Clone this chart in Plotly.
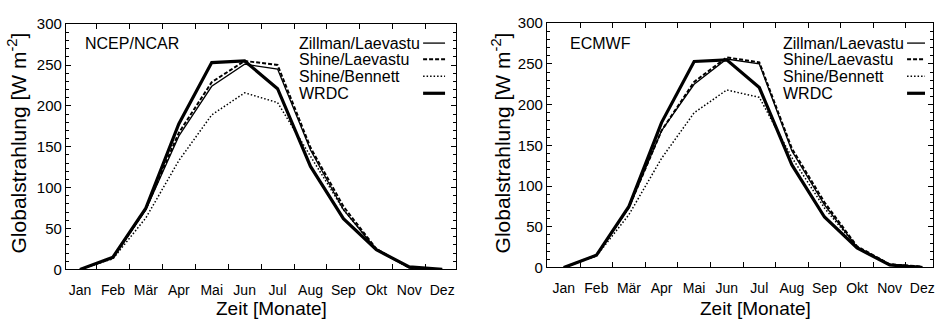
import plotly.graph_objects as go

# Month categories (positions 1..12 on the x axis)
months = ["Jan", "Feb", "Mär", "Apr", "Mai", "Jun", "Jul", "Aug", "Sep", "Okt", "Nov", "Dez"]
month_pos = list(range(1, 13))

# Monthly mean global radiation [W m^-2]
wrdc = [0, 15, 75, 178, 253, 255, 221, 126, 62, 24, 3, 0]

ncep_zillman = [0, 14, 73, 163, 224, 251, 245, 146, 73, 24, 2, 0]
ncep_shine_laev = [0, 14, 74, 167, 229, 255, 250, 149, 77, 25, 2, 0]
ncep_shine_benn = [0, 13, 63, 133, 189, 216, 204, 138, 73, 25, 2, 0]

ecmwf_zillman = [0, 15, 74, 168, 225, 256, 250, 143, 77, 25, 4, 1]
ecmwf_shine_laev = [0, 15, 74, 168, 228, 258, 252, 146, 80, 26, 4, 1]
ecmwf_shine_benn = [0, 14, 65, 134, 190, 218, 209, 135, 73, 25, 4, 1]

series_names = ["Zillman/Laevastu", "Shine/Laevastu", "Shine/Bennett", "WRDC"]
panel_titles = ["NCEP/NCAR", "ECMWF"]
y_title = "Globalstrahlung [W m<sup>-2</sup>]"
x_title = "Zeit [Monate]"

FONT = "Liberation Sans, Arial, Helvetica, sans-serif"
W, H = 937, 320

line_styles = {
    "Zillman/Laevastu": dict(width=1.3, dash="solid"),
    "Shine/Laevastu": dict(width=2.0, dash="4px,2px"),
    "Shine/Bennett": dict(width=1.5, dash="1.5px,2px"),
    "WRDC": dict(width=3.2, dash="solid"),
}


def px(x):
    return x / W


def py(y):
    return 1 - y / H


panels = [
    dict(
        title=panel_titles[0],
        data={
            "Zillman/Laevastu": ncep_zillman,
            "Shine/Laevastu": ncep_shine_laev,
            "Shine/Bennett": ncep_shine_benn,
            "WRDC": wrdc,
        },
        x0=66, x1=457, y0=16, y1=275, xrange=[0.57, 12.42],
        ytitle_x=17, xtitle_x=272, title_x=83, legend_x=298, sample=(424, 446),
    ),
    dict(
        title=panel_titles[1],
        data={
            "Zillman/Laevastu": ecmwf_zillman,
            "Shine/Laevastu": ecmwf_shine_laev,
            "Shine/Bennett": ecmwf_shine_benn,
            "WRDC": wrdc,
        },
        x0=548, x1=935, y0=15, y1=273, xrange=[0.48, 12.33],
        ytitle_x=502, xtitle_x=757, title_x=569, legend_x=783, sample=(909, 927),
    ),
]

fig = go.Figure()
annotations = []
shapes = []
layout_axes = {}

draw_order = ["Shine/Bennett", "Shine/Laevastu", "Zillman/Laevastu", "WRDC"]
legend_rows = [36, 53, 71, 89]

for i, p in enumerate(panels):
    xa = "x" if i == 0 else "x2"
    ya = "y" if i == 0 else "y2"
    xdom = [px(p["x0"]), px(p["x1"])]
    ydom = [py(p["y1"]), py(p["y0"])]

    for name in draw_order:
        st = line_styles[name]
        fig.add_trace(go.Scatter(
            x=month_pos, y=p["data"][name], xaxis=xa, yaxis=ya,
            mode="lines", name=name, showlegend=False,
            line=dict(color="black", width=st["width"], dash=st["dash"]),
        ))

    # month labels on the major ticks; the visible ticks sit between months
    layout_axes["xaxis" if i == 0 else "xaxis2"] = dict(
        domain=xdom, range=p["xrange"], anchor=ya,
        tickmode="array", tickvals=month_pos, ticktext=months,
        ticks="inside", ticklen=0, tickwidth=1, tickcolor="black",
        minor=dict(tickmode="linear", tick0=0.5, dtick=1, ticks="inside",
                   ticklen=5, tickwidth=1, tickcolor="black"),
        tickfont=dict(family=FONT, size=14, color="black"),
        ticklabelstandoff=8,
        showline=True, linecolor="black", linewidth=1,
        mirror="allticks", showgrid=False, zeroline=False,
    )
    layout_axes["yaxis" if i == 0 else "yaxis2"] = dict(
        domain=ydom, range=[0, 300], anchor=xa,
        tickmode="array", tickvals=[0, 50, 100, 150, 200, 250, 300],
        ticks="inside", ticklen=5, tickwidth=1, tickcolor="black",
        minor=dict(tickmode="linear", tick0=0, dtick=10, ticks="inside",
                   ticklen=3, tickwidth=1, tickcolor="black"),
        showline=True, linecolor="black", linewidth=1, mirror="allticks",
        showgrid=False, zeroline=False,
        tickfont=dict(family=FONT, size=15, color="black"),
    )

    # axis titles
    annotations.append(dict(
        text=y_title, x=px(p["ytitle_x"]), y=py(141), xref="paper", yref="paper",
        textangle=-90, showarrow=False, xanchor="center", yanchor="middle",
        font=dict(family=FONT, size=21, color="black"),
    ))
    annotations.append(dict(
        text=x_title, x=px(p["xtitle_x"]), y=0, xref="paper", yref="paper",
        showarrow=False, xanchor="center", yanchor="bottom", yshift=-9,
        font=dict(family=FONT, size=19, color="black"),
    ))
    # panel title
    annotations.append(dict(
        text=p["title"], x=px(p["title_x"]), y=py(36), xref="paper", yref="paper",
        showarrow=False, xanchor="left", yanchor="middle",
        font=dict(family=FONT, size=16, color="black"),
    ))
    # legend: label first, line sample to its right
    for name, ry in zip(series_names, legend_rows):
        annotations.append(dict(
            text=name, x=px(p["legend_x"]), y=py(ry), xref="paper", yref="paper",
            showarrow=False, xanchor="left", yanchor="middle",
            font=dict(family=FONT, size=16, color="black"),
        ))
        st = line_styles[name]
        shapes.append(dict(
            type="line", xref="paper", yref="paper",
            x0=px(p["sample"][0]), x1=px(p["sample"][1]), y0=py(ry), y1=py(ry),
            line=dict(color="black", width=st["width"], dash=st["dash"]),
        ))

fig.update_layout(
    width=W, height=H,
    margin=dict(l=0, r=0, t=0, b=0),
    paper_bgcolor="white", plot_bgcolor="white",
    showlegend=False,
    annotations=annotations, shapes=shapes,
    font=dict(family=FONT, color="black"),
    **layout_axes,
)

fig.write_html("out.html")
